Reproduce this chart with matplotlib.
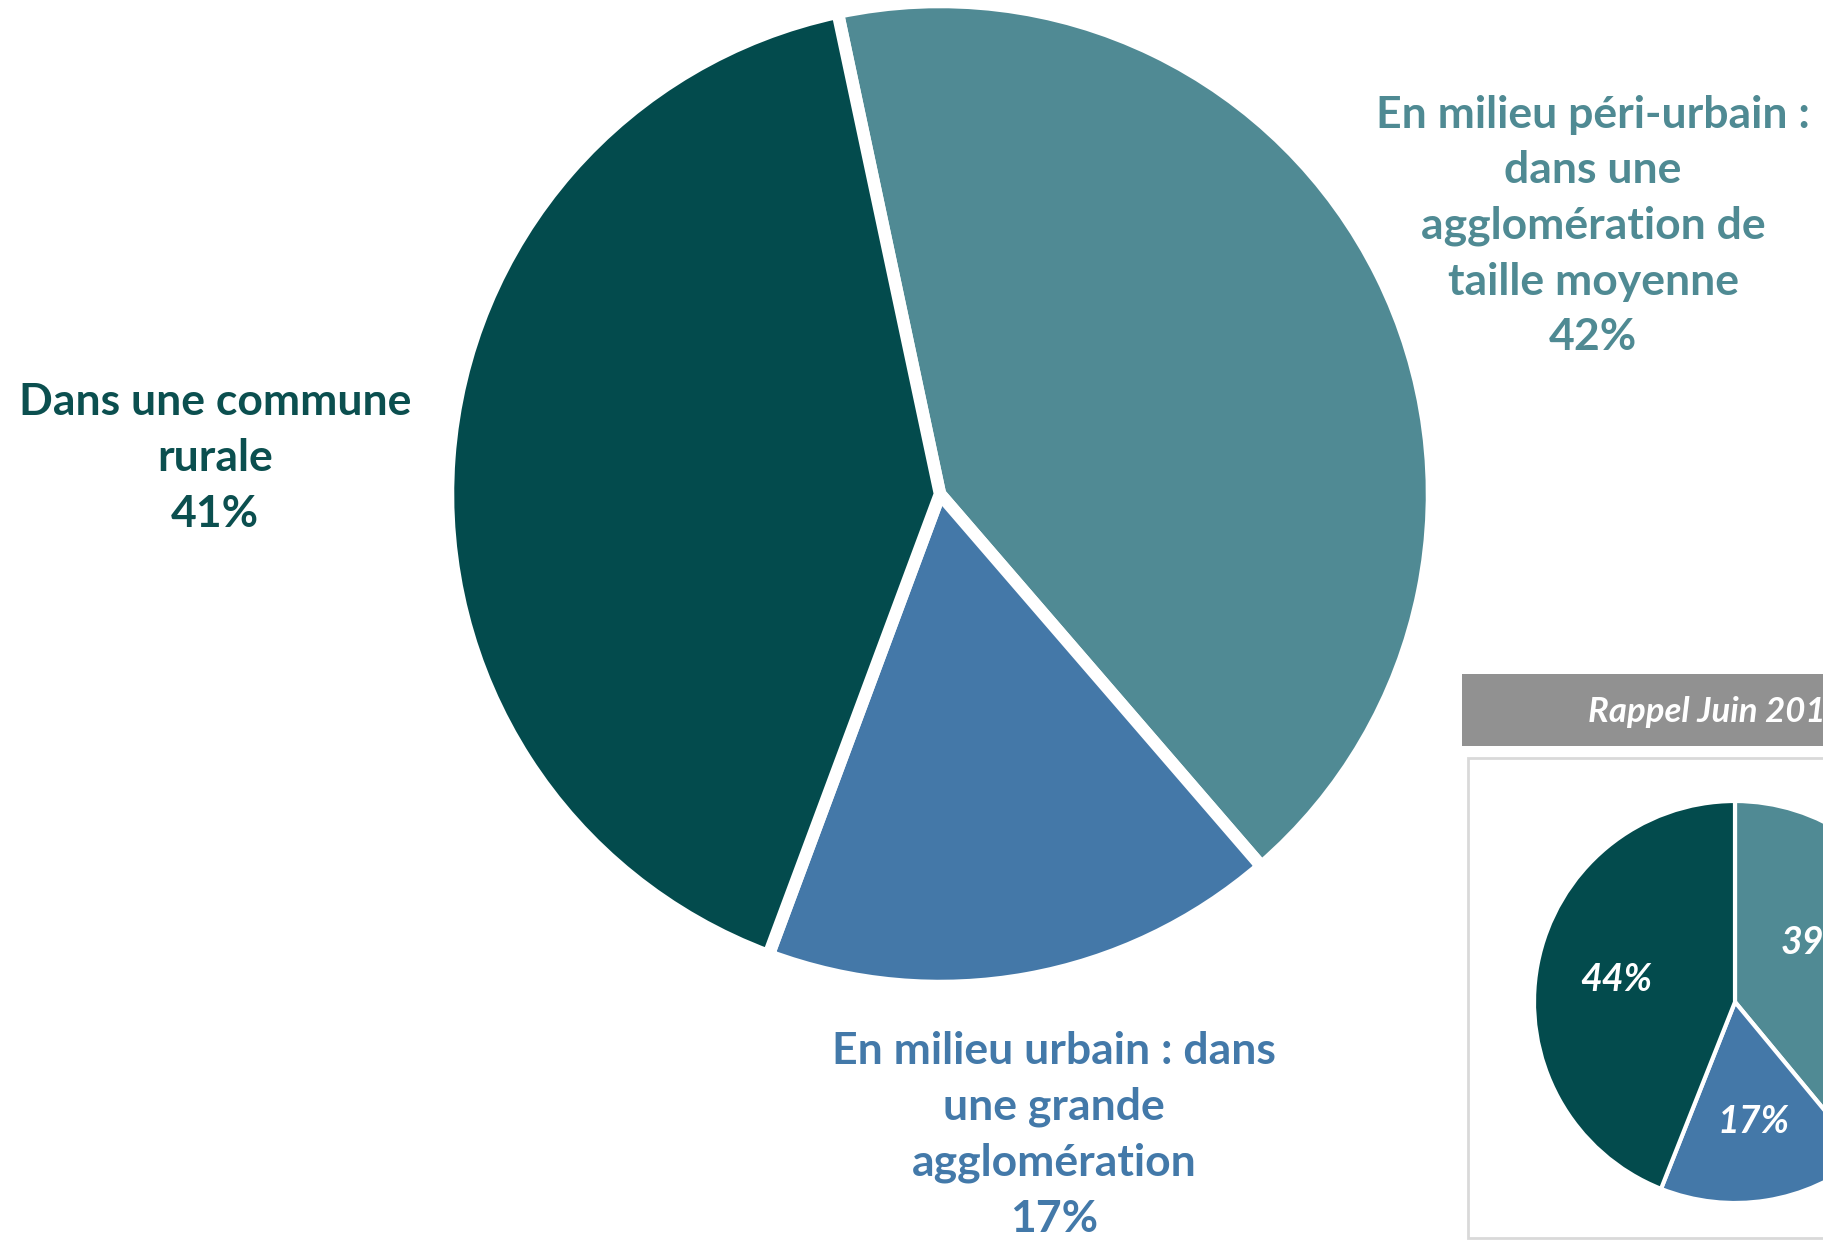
import matplotlib.pyplot as plt
from matplotlib.patches import Rectangle

# current survey
labels = ['En milieu péri-urbain :\ndans une\nagglomération de\ntaille moyenne',
          'En milieu urbain : dans\nune grande\nagglomération',
          'Dans une commune\nrurale']
values = [42, 17, 41]
colors = ['#508A94', '#4478A8', '#034B4D']
text_colors = ['#4F8A93', '#4379A9', '#0B4F4F']

# reminder (June) survey
old_values = [39, 17, 44]
inset_title = 'Rappel Juin 2019'

W, H = 1823, 1242
fig = plt.figure(figsize=(W / 100, H / 100), dpi=100)
ax = fig.add_axes([0, 0, 1, 1])

font = 'Lato'

# main pie
ax.pie(values, colors=colors, startangle=102, counterclock=False,
       center=(940, H - 494), radius=492,
       wedgeprops=dict(edgecolor='white', linewidth=9, joinstyle='miter'))

label_pos = [(1593, 226), (1054, 1135), (215, 458)]
for lab, v, c, (x, y) in zip(labels, values, text_colors, label_pos):
    ax.text(x, H - y, '{}\n{}%'.format(lab, v), ha='center', va='center',
            color=c, fontsize=32, fontweight='bold', family=font, linespacing=1.47)

# inset box
ax.add_patch(Rectangle((1462, H - 746), 500, 72, facecolor='#919191', edgecolor='none'))
ax.text(1588, H - 712, inset_title, ha='left', va='center', color='white',
        fontsize=25, fontweight='bold', style='italic', family=font)
ax.add_patch(Rectangle((1468, H - 1238), 500, 480, facecolor='white',
                       edgecolor='#D9D9D9', linewidth=2))

wedges, texts, autotexts = ax.pie(old_values, colors=colors, startangle=90, counterclock=False,
                                  center=(1735, H - 1002), radius=201,
                                  autopct='%d%%', pctdistance=0.6,
                                  wedgeprops=dict(edgecolor='white', linewidth=3))
for t in autotexts:
    t.set_color('white')
    t.set_fontsize(27)
    t.set_fontweight('bold')
    t.set_style('italic')
    t.set_family(font)
# excel pushed the teal label up toward the top of its slice
autotexts[0].set_position((1735 + 82, H - 1002 + 60))

ax.set_xlim(0, W)
ax.set_ylim(0, H)
ax.set_aspect('equal')
ax.axis('off')

fig.savefig('out.png', dpi=100, facecolor='white')
